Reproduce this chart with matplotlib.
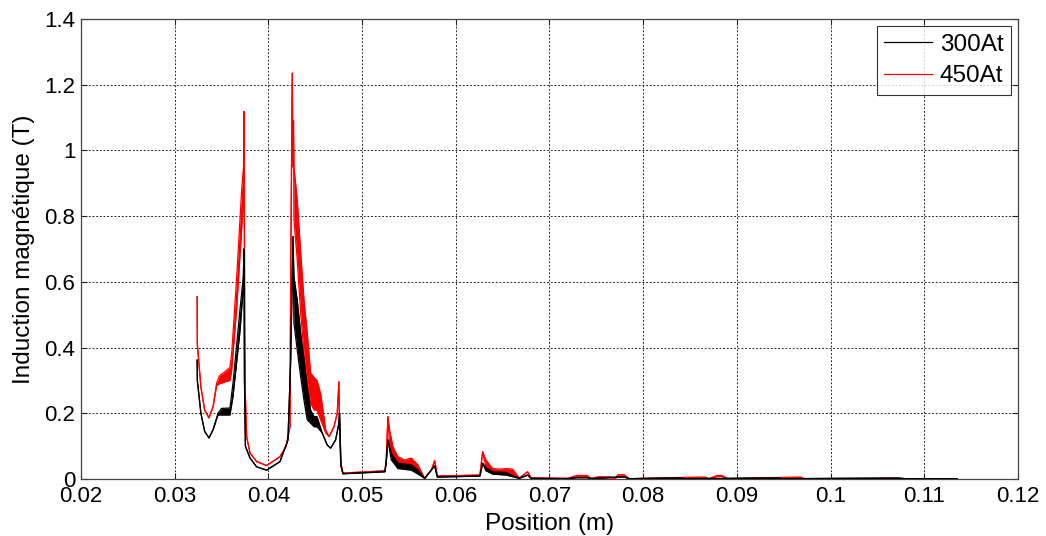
import matplotlib
matplotlib.use("Agg")
import matplotlib.pyplot as plt
from matplotlib.lines import Line2D
import numpy as np

plt.rcParams["font.family"] = ["Liberation Sans", "DejaVu Sans"]

# Position (m) and lower / upper envelope of B (T) for each excitation
pos_300 = [0.03240, 0.03242, 0.03280, 0.03320, 0.03366, 0.03410, 0.03462, 0.03500,
           0.03590, 0.03622, 0.03697, 0.03732, 0.03740, 0.03745, 0.03755, 0.03804,
           0.03875, 0.03982, 0.04124, 0.04209, 0.04238, 0.04263, 0.04273, 0.04308,
           0.04345, 0.04380, 0.04415, 0.04451, 0.04487, 0.04519, 0.04575, 0.04629,
           0.04665, 0.04718, 0.04753, 0.04760, 0.04775, 0.04796, 0.05244, 0.05258,
           0.05276, 0.05312, 0.05383, 0.05525, 0.05597, 0.05668, 0.05775, 0.05803,
           0.06258, 0.06287, 0.06322, 0.06394, 0.06536, 0.06678, 0.06767, 0.06803,
           0.07200, 0.07290, 0.07400, 0.07450, 0.07730, 0.07800, 0.07850, 0.08320,
           0.08400, 0.08450, 0.09380, 0.09440, 0.09500, 0.10670, 0.10720, 0.10800,
           0.11350]
lo_300 = [0.362, 0.300, 0.200, 0.145, 0.125, 0.150, 0.195, 0.195,
          0.195, 0.250, 0.450, 0.580, 0.700, 0.300, 0.100, 0.064,
          0.037, 0.027, 0.053, 0.119, 0.360, 0.738, 0.475, 0.393,
          0.311, 0.240, 0.180, 0.170, 0.159, 0.159, 0.140, 0.103,
          0.094, 0.119, 0.170, 0.200, 0.040, 0.016, 0.022, 0.050,
          0.119, 0.058, 0.032, 0.027, 0.015, 0.002, 0.040, 0.006,
          0.009, 0.048, 0.025, 0.015, 0.012, 0.002, 0.012, 0.002,
          0.001, 0.004, 0.004, 0.001, 0.006, 0.006, 0.001, 0.003,
          0.003, 0.001, 0.003, 0.003, 0.001, 0.003, 0.003, 0.001,
          0.001]
hi_300 = [0.362, 0.300, 0.200, 0.145, 0.125, 0.150, 0.200, 0.215,
          0.216, 0.290, 0.515, 0.615, 0.700, 0.300, 0.100, 0.064,
          0.037, 0.027, 0.053, 0.119, 0.360, 0.738, 0.616, 0.545,
          0.444, 0.362, 0.281, 0.210, 0.190, 0.190, 0.140, 0.103,
          0.094, 0.119, 0.170, 0.200, 0.040, 0.016, 0.022, 0.050,
          0.119, 0.079, 0.048, 0.043, 0.027, 0.002, 0.040, 0.006,
          0.009, 0.048, 0.035, 0.022, 0.020, 0.002, 0.012, 0.002,
          0.001, 0.004, 0.004, 0.001, 0.006, 0.006, 0.001, 0.003,
          0.003, 0.001, 0.003, 0.003, 0.001, 0.003, 0.003, 0.001,
          0.001]

pos_450 = [0.03240, 0.03242, 0.03280, 0.03320, 0.03366, 0.03410, 0.03448, 0.03480,
           0.03530, 0.03590, 0.03608, 0.03662, 0.03715, 0.03735, 0.03740, 0.03748,
           0.03755, 0.03768, 0.03804, 0.03875, 0.03982, 0.04124, 0.04190, 0.04231,
           0.04238, 0.04255, 0.04262, 0.04268, 0.04273, 0.04308, 0.04345, 0.04380,
           0.04415, 0.04451, 0.04487, 0.04519, 0.04558, 0.04612, 0.04647, 0.04700,
           0.04735, 0.04753, 0.04760, 0.04772, 0.04796, 0.05244, 0.05258, 0.05276,
           0.05294, 0.05330, 0.05383, 0.05455, 0.05525, 0.05597, 0.05668, 0.05739,
           0.05775, 0.05803, 0.06258, 0.06287, 0.06322, 0.06394, 0.06464, 0.06536,
           0.06607, 0.06678, 0.06767, 0.06803, 0.07200, 0.07290, 0.07400, 0.07450,
           0.07520, 0.07650, 0.07700, 0.07730, 0.07800, 0.07850, 0.08580, 0.08660,
           0.08700, 0.08790, 0.08840, 0.08900, 0.09640, 0.09680, 0.09720, 0.11350]
lo_450 = [0.555, 0.410, 0.280, 0.210, 0.186, 0.220, 0.285, 0.290,
          0.295, 0.300, 0.330, 0.520, 0.760, 0.850, 1.118, 0.450,
          0.250, 0.129, 0.079, 0.053, 0.041, 0.068, 0.100, 0.160,
          0.610, 1.235, 0.950, 1.090, 0.790, 0.667, 0.505, 0.383,
          0.301, 0.231, 0.210, 0.210, 0.180, 0.140, 0.129, 0.159,
          0.200, 0.296, 0.150, 0.050, 0.018, 0.025, 0.060, 0.190,
          0.098, 0.063, 0.043, 0.037, 0.037, 0.022, 0.002, 0.027,
          0.056, 0.009, 0.012, 0.083, 0.037, 0.019, 0.019, 0.020,
          0.013, 0.003, 0.022, 0.003, 0.002, 0.006, 0.006, 0.002,
          0.004, 0.004, 0.002, 0.008, 0.008, 0.001, 0.004, 0.004,
          0.001, 0.008, 0.008, 0.001, 0.004, 0.004, 0.001, 0.001]
hi_450 = [0.555, 0.410, 0.280, 0.210, 0.186, 0.220, 0.292, 0.315,
          0.325, 0.340, 0.380, 0.615, 0.880, 0.950, 1.118, 0.450,
          0.250, 0.129, 0.079, 0.053, 0.041, 0.068, 0.100, 0.160,
          0.610, 1.235, 0.950, 1.090, 0.950, 0.850, 0.688, 0.545,
          0.444, 0.322, 0.310, 0.300, 0.260, 0.150, 0.129, 0.159,
          0.200, 0.296, 0.150, 0.050, 0.018, 0.025, 0.060, 0.190,
          0.149, 0.098, 0.068, 0.058, 0.064, 0.043, 0.002, 0.027,
          0.056, 0.009, 0.012, 0.083, 0.058, 0.032, 0.030, 0.032,
          0.030, 0.003, 0.022, 0.003, 0.002, 0.011, 0.011, 0.002,
          0.007, 0.007, 0.002, 0.013, 0.013, 0.001, 0.006, 0.006,
          0.001, 0.011, 0.011, 0.001, 0.006, 0.006, 0.001, 0.001]

series_labels = ["300At", "450At"]
series_colors = ["#000000", "#ff0000"]

xticks = [0.02, 0.03, 0.04, 0.05, 0.06, 0.07, 0.08, 0.09, 0.10, 0.11, 0.12]
xtick_labels = ["0.02", "0.03", "0.04", "0.05", "0.06", "0.07", "0.08", "0.09",
                "0.1", "0.11", "0.12"]
yticks = [0, 0.2, 0.4, 0.6, 0.8, 1.0, 1.2, 1.4]
ytick_labels = ["0", "0.2", "0.4", "0.6", "0.8", "1", "1.2", "1.4"]

fig = plt.figure(figsize=(10.46, 5.36), dpi=100)
ax = fig.add_axes([0.0774, 0.1063, 0.8958, 0.8583])


def draw_band(x, lo, hi, color):
    x = np.asarray(x)
    lo = np.asarray(lo)
    hi = np.asarray(hi)
    ax.fill_between(x, lo, hi, color=color, lw=0, zorder=3)
    ax.plot(x, lo, color=color, lw=0.9, zorder=3)
    ax.plot(x, hi, color=color, lw=0.9, zorder=3)


draw_band(pos_450, lo_450, hi_450, series_colors[1])
draw_band(pos_300, lo_300, hi_300, series_colors[0])

ax.set_xlim(0.02, 0.12)
ax.set_ylim(0, 1.4)
ax.set_xticks(xticks)
ax.set_xticklabels(xtick_labels)
ax.set_yticks(yticks)
ax.set_yticklabels(ytick_labels)
ax.tick_params(direction="in", top=True, right=True, length=4, width=0.8,
               labelsize=16, colors="#222222", labelcolor="black")
ax.tick_params(axis="x", pad=5)
ax.tick_params(axis="y", pad=4)
ax.grid(True, color="black", linestyle=(0, (2.2, 2.2)), linewidth=0.6)
for sp in ax.spines.values():
    sp.set_color("#444444")
    sp.set_linewidth(0.9)

ax.set_xlabel("Position (m)", fontsize=17.5, labelpad=4)
ax.set_ylabel("Induction magnétique (T)", fontsize=17.5, labelpad=7)

handles = [Line2D([], [], color=c, lw=0.9) for c in series_colors]
leg = ax.legend(handles, series_labels, loc="upper right", fontsize=17.5,
                frameon=True, fancybox=False, borderaxespad=0.3,
                handlelength=2.0, handletextpad=0.3, borderpad=0.3,
                labelspacing=0.4)
leg.get_frame().set_edgecolor("black")
leg.get_frame().set_linewidth(0.8)

fig.savefig("out.png", dpi=100, facecolor="white")
